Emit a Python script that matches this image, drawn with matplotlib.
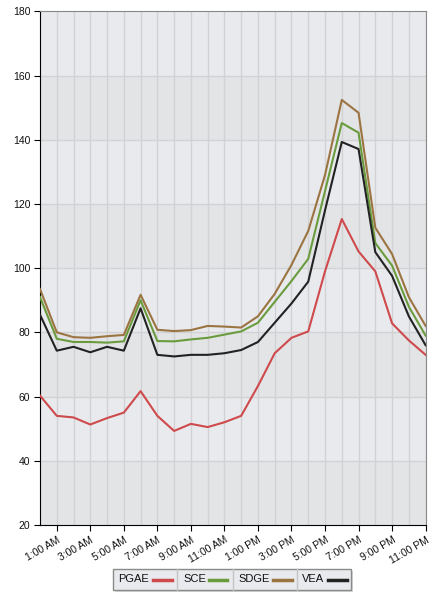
import matplotlib.pyplot as plt
from matplotlib.lines import Line2D
from matplotlib.patches import Rectangle

plt.rcParams['font.family'] = ['Liberation Sans', 'DejaVu Sans']

hours = list(range(24))
tick_labels = ["1:00 AM", "3:00 AM", "5:00 AM", "7:00 AM", "9:00 AM", "11:00 AM",
               "1:00 PM", "3:00 PM", "5:00 PM", "7:00 PM", "9:00 PM", "11:00 PM"]

pgae = [60.3, 54.0, 53.5, 51.3, 53.3, 55.0, 61.7, 54.0, 49.3, 51.5, 50.5, 52.0,
        54.0, 63.3, 73.5, 78.3, 80.3, 99.0, 115.3, 105.2, 99.0, 82.8, 77.5, 73.0]
sce = [91.0, 78.0, 77.0, 77.0, 76.8, 77.2, 90.0, 77.3, 77.2, 77.8, 78.3, 79.3,
       80.3, 83.0, 89.5, 96.0, 102.9, 124.0, 145.2, 142.2, 107.8, 100.8, 88.0, 79.0]
sdge = [93.5, 80.0, 78.5, 78.3, 78.8, 79.2, 91.7, 80.8, 80.4, 80.7, 82.0, 81.8,
        81.5, 85.0, 92.0, 101.0, 111.6, 129.0, 152.4, 148.4, 112.6, 104.4, 91.0, 82.0]
vea = [85.5, 74.3, 75.5, 73.8, 75.5, 74.3, 87.5, 73.0, 72.5, 73.0, 73.0, 73.5,
       74.5, 77.0, 83.0, 89.0, 95.8, 118.0, 139.3, 137.1, 105.0, 97.6, 85.0, 76.0]

series = [("PGAE", pgae, "#cf4a4c"), ("SCE", sce, "#6a9c3e"),
          ("SDGE", sdge, "#9b7442"), ("VEA", vea, "#222222")]

W, H = 440, 600
fig = plt.figure(figsize=(4.4, 6), dpi=100)
ax = fig.add_axes([40 / W, 75 / H, 385.6 / W, 513.7 / H])

# alternating horizontal bands
for i, lo in enumerate(range(20, 180, 20)):
    ax.axhspan(lo, lo + 20, color="#e3e4e6" if i % 2 == 0 else "#e8eaed", zorder=0, lw=0)

for h in hours:
    ax.axvline(h, color="#d2d2d4", lw=1, zorder=1)
for v in range(40, 180, 20):
    ax.axhline(v, color="#d2d2d4", lw=1, zorder=1)

for name, vals, col in series:
    ax.plot(hours, vals, color=col, lw=1.5, zorder=3)

ax.set_xlim(0, 23)
ax.set_ylim(20, 180)
ax.set_yticks(range(20, 181, 20))
ax.set_xticks(hours[1::2])
ax.set_xticklabels(tick_labels, rotation=30, ha="right", rotation_mode="anchor")
ax.tick_params(labelsize=7.5, length=4, color="#000000", pad=3, labelcolor="#111111")
ax.tick_params(axis="x", pad=3)
ax.spines["left"].set_color("#000000")
ax.spines["bottom"].set_color("#000000")
ax.spines["top"].set_color("#888888")
ax.spines["right"].set_color("#888888")

# legend drawn by hand: a boxed row of cells, text then a line swatch
def fx(px):
    return px / W

def fy(py):
    return 1 - py / H

box_l, box_r, box_t, box_b = 113, 351, 569, 590
fig.add_artist(Rectangle((fx(box_l + 2), fy(box_b + 2)), fx(box_r - box_l), (box_b - box_t) / H,
                         facecolor="#d9d9d9", edgecolor="none", zorder=4))
fig.add_artist(Rectangle((fx(box_l), fy(box_b)), fx(box_r - box_l), (box_b - box_t) / H,
                         facecolor="#e8eaed", edgecolor="#8a8a8a", lw=1, zorder=5))
cells = [113, 177, 233, 297, 351]
text_x = [118, 183, 238, 302]
sw_x = [(153, 172), (209, 227), (273, 292), (328, 347)]
yc = (box_t + box_b) / 2
for k, (name, _, col) in enumerate(series):
    if k > 0:
        fig.add_artist(Line2D([fx(cells[k])] * 2, [fy(box_b), fy(box_t)],
                              color="#c4c4c4", lw=1, zorder=6))
    fig.text(fx(text_x[k]), fy(yc), name, fontsize=8, va="center", ha="left",
             color="#111111", zorder=6)
    fig.add_artist(Line2D([fx(sw_x[k][0]), fx(sw_x[k][1])], [fy(yc)] * 2,
                          color=col, lw=2.5, zorder=6))

fig.savefig("out.png", dpi=100)
